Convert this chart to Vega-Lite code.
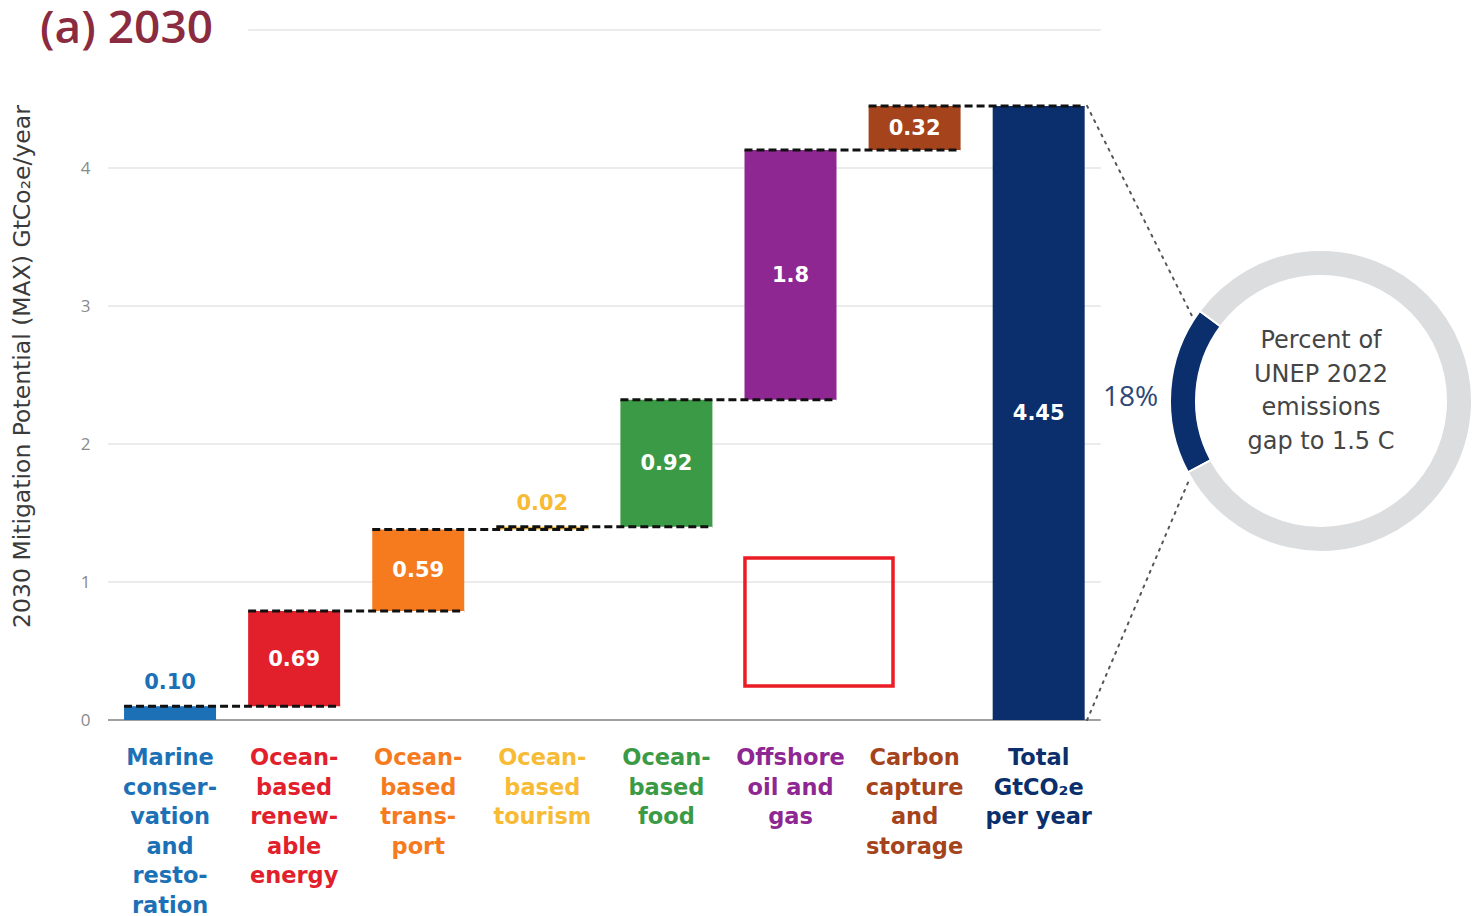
{
  "$schema": "https://vega.github.io/schema/vega-lite/v6.json",
  "width": 1365,
  "height": 690,
  "autosize": {"type": "none"},
  "padding": {"left": 108, "top": 30, "right": 0, "bottom": 196},
  "background": "white",
  "config": {"view": {"stroke": null}, "font": "Open Sans"},
  "title": {
    "text": "(a) 2030",
    "anchor": "start",
    "frame": "group",
    "dx": -68,
    "baseline": "middle",
    "offset": 0,
    "dy": 46,
    "fontSize": 46,
    "fontWeight": 600,
    "color": "#8b2b40",
    "font": "Open Sans"
  },
  "datasets": {
    "bars": [
      {"i": 0, "name": "Marine conservation and restoration", "label": "Marine\nconser-\nvation\nand\nresto-\nration", "start": 0, "end": 0.10, "value": 0.10, "txt": "0.10"},
      {"i": 1, "name": "Ocean-based renewable energy", "label": "Ocean-\nbased\nrenew-\nable\nenergy", "start": 0.10, "end": 0.79, "value": 0.69, "txt": "0.69"},
      {"i": 2, "name": "Ocean-based transport", "label": "Ocean-\nbased\ntrans-\nport", "start": 0.79, "end": 1.38, "value": 0.59, "txt": "0.59"},
      {"i": 3, "name": "Ocean-based tourism", "label": "Ocean-\nbased\ntourism", "start": 1.38, "end": 1.40, "value": 0.02, "txt": "0.02"},
      {"i": 4, "name": "Ocean-based food", "label": "Ocean-\nbased\nfood", "start": 1.40, "end": 2.32, "value": 0.92, "txt": "0.92"},
      {"i": 5, "name": "Offshore oil and gas", "label": "Offshore\noil and\ngas", "start": 2.32, "end": 4.13, "value": 1.8, "txt": "1.8"},
      {"i": 6, "name": "Carbon capture and storage", "label": "Carbon\ncapture\nand\nstorage", "start": 4.13, "end": 4.45, "value": 0.32, "txt": "0.32"},
      {"i": 7, "name": "Total GtCO2e per year", "label": "Total\nGtCO₂e\nper year", "start": 0, "end": 4.45, "value": 4.45, "txt": "4.45"}
    ],
    "links": [
      {"lvl": 0.10, "from": 0, "to": 1},
      {"lvl": 0.79, "from": 1, "to": 2},
      {"lvl": 1.38, "from": 2, "to": 3},
      {"lvl": 1.40, "from": 3, "to": 4},
      {"lvl": 2.32, "from": 4, "to": 5},
      {"lvl": 4.13, "from": 5, "to": 6},
      {"lvl": 4.45, "from": 6, "to": 7}
    ],
    "grid": [{"g": 1}, {"g": 2}, {"g": 3}, {"g": 4}],
    "donut": [
      {"part": "Share of emissions gap", "pct": 18},
      {"part": "Remaining gap", "pct": 82}
    ],
    "guides": [
      {"x": 7.39, "y": 4.45, "x2": 8.244, "y2": 2.913},
      {"x": 7.39, "y": 0.0, "x2": 8.219, "y2": 1.754}
    ]
  },
  "encoding": {
    "x": {"type": "quantitative", "scale": {"domain": [-0.5, 10.5], "nice": false, "zero": false, "padding": 0}, "axis": null}
  },
  "layer": [
    {
      "data": {"name": "grid"},
      "mark": {"type": "rule", "color": "#e4e4e4", "strokeWidth": 1.5},
      "encoding": {
        "y": {"field": "g", "type": "quantitative", "scale": {"domain": [0, 5], "nice": false},
          "axis": {"values": [0, 1, 2, 3, 4], "format": "d", "grid": false, "domain": false, "ticks": false, "labelFontSize": 17, "labelColor": "#8a8a8a", "labelPadding": 18, "labelFont": "Open Sans",
            "title": "2030 Mitigation Potential (MAX) GtCo₂e/year", "titleFont": "DejaVu Sans", "titleFontSize": 23.5, "titleFontWeight": "normal", "titleColor": "#3a3a3a", "titlePadding": 46, "titleY": 336}},
        "x": {"datum": -0.5},
        "x2": {"datum": 7.5}
      }
    },
    {
      "data": {"values": [{"g": 5}]},
      "mark": {"type": "rule", "color": "#e4e4e4", "strokeWidth": 1.5},
      "encoding": {
        "y": {"field": "g", "type": "quantitative"},
        "x": {"datum": 0.63},
        "x2": {"datum": 7.5}
      }
    },
    {
      "data": {"values": [{"g": 0}]},
      "mark": {"type": "rule", "color": "#a0a0a0", "strokeWidth": 2},
      "encoding": {
        "y": {"field": "g", "type": "quantitative"},
        "x": {"datum": -0.5},
        "x2": {"datum": 7.5}
      }
    },
    {
      "data": {"name": "bars"},
      "mark": {"type": "bar", "size": 92},
      "encoding": {
        "x": {"field": "i", "type": "quantitative"},
        "y": {"field": "start", "type": "quantitative"},
        "y2": {"field": "end"},
        "color": {
          "field": "name",
          "type": "nominal",
          "legend": null,
          "scale": {
            "domain": ["Marine conservation and restoration", "Ocean-based renewable energy", "Ocean-based transport", "Ocean-based tourism", "Ocean-based food", "Offshore oil and gas", "Carbon capture and storage", "Total GtCO2e per year", "Share of emissions gap", "Remaining gap"],
            "range": ["#1c71b6", "#e2202b", "#f67a1e", "#f7bb35", "#3a9a45", "#8e2792", "#a5441c", "#0b2f6c", "#0b2f6c", "#dcdddf"]
          }
        }
      }
    },
    {
      "data": {"name": "links"},
      "mark": {"type": "rule", "color": "#111111", "strokeWidth": 3, "strokeDash": [8, 4], "xOffset": -46, "x2Offset": 46},
      "encoding": {
        "x": {"field": "from", "type": "quantitative"},
        "x2": {"field": "to"},
        "y": {"field": "lvl", "type": "quantitative"}
      }
    },
    {
      "data": {"name": "bars"},
      "transform": [
        {"filter": "datum.value >= 0.2"},
        {"calculate": "(datum.start + datum.end) / 2", "as": "mid"}
      ],
      "mark": {"type": "text", "color": "white", "font": "DejaVu Sans", "fontSize": 21, "fontWeight": "bold", "baseline": "middle", "align": "center", "dy": 1},
      "encoding": {
        "x": {"field": "i", "type": "quantitative"},
        "y": {"field": "mid", "type": "quantitative"},
        "text": {"field": "txt"}
      }
    },
    {
      "data": {"name": "bars"},
      "transform": [{"filter": "datum.value < 0.2"}],
      "mark": {"type": "text", "font": "DejaVu Sans", "fontSize": 21, "fontWeight": "bold", "baseline": "middle", "align": "center", "dy": -23},
      "encoding": {
        "x": {"field": "i", "type": "quantitative"},
        "y": {"field": "end", "type": "quantitative"},
        "text": {"field": "txt"},
        "color": {"field": "name", "type": "nominal", "legend": null}
      }
    },
    {
      "data": {"name": "bars"},
      "mark": {"type": "text", "font": "DejaVu Sans", "fontSize": 22.5, "fontWeight": "bold", "baseline": "top", "align": "center", "dy": 27, "lineBreak": "\n", "lineHeight": 29.5},
      "encoding": {
        "x": {"field": "i", "type": "quantitative"},
        "y": {"datum": 0},
        "text": {"field": "label"},
        "color": {"field": "name", "type": "nominal", "legend": null}
      }
    },
    {
      "data": {"name": "guides"},
      "mark": {"type": "rule", "color": "#555555", "strokeWidth": 2, "strokeDash": [2, 6], "strokeCap": "round"},
      "encoding": {
        "x": {"field": "x", "type": "quantitative"},
        "x2": {"field": "x2"},
        "y": {"field": "y", "type": "quantitative"},
        "y2": {"field": "y2"}
      }
    },
    {
      "data": {"name": "donut"},
      "mark": {"type": "arc", "outerRadius": 151, "innerRadius": 125, "stroke": "white", "strokeWidth": 2},
      "encoding": {
        "x": {"datum": 9.275},
        "y": {"datum": 2.312},
        "theta": {"field": "pct", "type": "quantitative", "stack": true, "scale": {"range": [4.22, 10.503]}},
        "order": {"field": "pct", "sort": "ascending"},
        "color": {"field": "part", "type": "nominal", "legend": null}
      }
    },
    {
      "data": {"values": [{"t": "Percent of\nUNEP 2022\nemissions\ngap to 1.5 C"}]},
      "mark": {"type": "text", "font": "DejaVu Sans", "fontSize": 24, "color": "#454545", "baseline": "middle", "align": "center", "lineBreak": "\n", "lineHeight": 33.5},
      "encoding": {
        "x": {"datum": 9.275},
        "y": {"datum": 2.746},
        "text": {"field": "t"}
      }
    },
    {
      "data": {"values": [{"t": "18%"}]},
      "mark": {"type": "text", "fontSize": 28, "fontWeight": 500, "color": "#2c4677", "baseline": "middle", "align": "center"},
      "encoding": {
        "x": {"datum": 7.74},
        "y": {"datum": 2.33},
        "text": {"field": "t"}
      }
    },
    {
      "data": {"values": [{"x": 4.633, "x2": 5.826, "y": 1.174, "y2": 0.246}]},
      "mark": {"type": "rect", "fill": null, "fillOpacity": 0, "stroke": "#ec1c24", "strokeWidth": 3.5},
      "encoding": {
        "x": {"field": "x", "type": "quantitative"},
        "x2": {"field": "x2"},
        "y": {"field": "y", "type": "quantitative"},
        "y2": {"field": "y2"}
      }
    }
  ]
}
